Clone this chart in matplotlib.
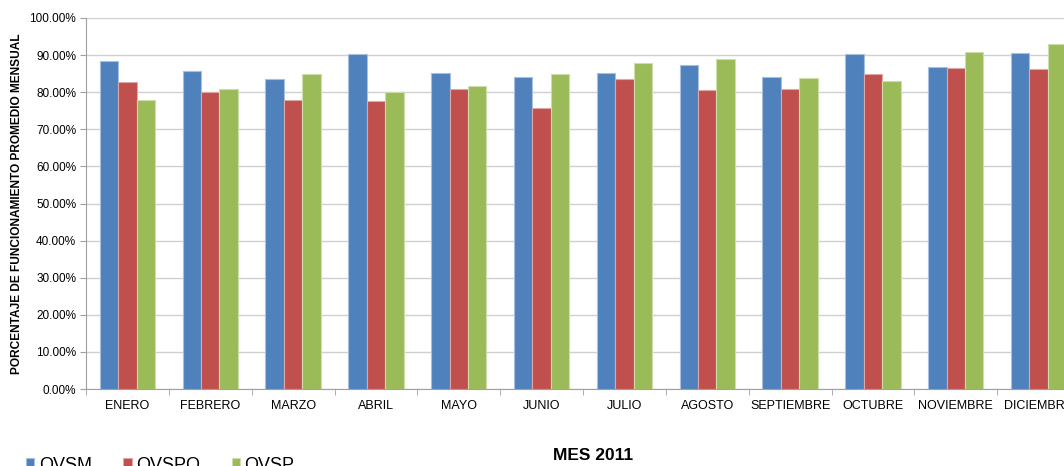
import matplotlib.pyplot as plt
import numpy as np
from matplotlib.ticker import FuncFormatter, FixedLocator

# datos (porcentaje)
meses = ['ENERO', 'FEBRERO', 'MARZO', 'ABRIL', 'MAYO', 'JUNIO', 'JULIO',
         'AGOSTO', 'SEPTIEMBRE', 'OCTUBRE', 'NOVIEMBRE', 'DICIEMBRE']
ovsm = [88.4, 85.7, 83.5, 90.4, 85.2, 84.1, 85.2, 87.3, 84.0, 90.2, 86.8, 90.6]
ovspo = [82.7, 80.0, 78.0, 77.6, 80.9, 75.8, 83.6, 80.7, 80.9, 84.9, 86.5, 86.3]
ovsp = [77.9, 80.9, 84.9, 80.0, 81.8, 84.9, 87.9, 88.9, 83.8, 82.9, 90.8, 92.9]

plt.rcParams['font.family'] = ['Liberation Sans', 'DejaVu Sans']

fig = plt.figure(figsize=(10.64, 4.66), dpi=100)
# el area de trazado se sale por la derecha como en la imagen original
ax = fig.add_axes([86 / 1064, 77 / 466, 994 / 1064, 371 / 466])

x = np.arange(len(meses))
w = 1 / 4.5
series = [(ovsm, 'OVSM', '#4F81BD', '#A7C0DE'),
          (ovspo, 'OVSPO', '#C0504D', '#DFA8A6'),
          (ovsp, 'OVSP', '#9BBB59', '#CDDDAC')]
for k, (vals, nombre, color, borde) in enumerate(series):
    ax.bar(x + (k - 1) * w, vals, width=w, color=color, edgecolor=borde,
           linewidth=0.8, label=nombre, zorder=3)

ax.set_xlim(-0.5, len(meses) - 0.5)
ax.set_ylim(0, 100)
ax.set_yticks(np.arange(0, 101, 10))
ax.yaxis.set_major_formatter(FuncFormatter(lambda v, p: f'{v:.2f}%'))
ax.yaxis.grid(True, color='#D0D0D0', linewidth=1, zorder=0)

ax.set_xticks(x)
ax.set_xticklabels(meses, fontsize=9)
ax.xaxis.set_minor_locator(FixedLocator(np.arange(-0.5, len(meses), 1)))
ax.tick_params(axis='x', which='major', length=0, pad=8)
ax.tick_params(axis='x', which='minor', length=4, color='#A0A0A0')
ax.tick_params(axis='y', labelsize=8.5, length=4, color='#A0A0A0', pad=3)

for s in ['top', 'right']:
    ax.spines[s].set_visible(False)
ax.spines['left'].set_color('#A0A0A0')
ax.spines['bottom'].set_color('#A0A0A0')

fig.text(17 / 1064, 1 - 204 / 466, 'PORCENTAJE DE FUNCIONAMIENTO PROMEDIO MENSUAL',
         rotation=90, fontsize=8.6, fontweight='bold', ha='center', va='center')
fig.text(593 / 1064, 1 - 456 / 466, 'MES 2011', fontsize=12.5, fontweight='bold',
         ha='center', va='center')

fig.legend(loc='center left', bbox_to_anchor=(19 / 1064, 1 - 465 / 466), ncol=3,
           frameon=False, fontsize=13, handlelength=0.45, handleheight=0.45,
           handletextpad=0.25, columnspacing=1.75, borderaxespad=0)

plt.savefig('out.png', dpi=100)
